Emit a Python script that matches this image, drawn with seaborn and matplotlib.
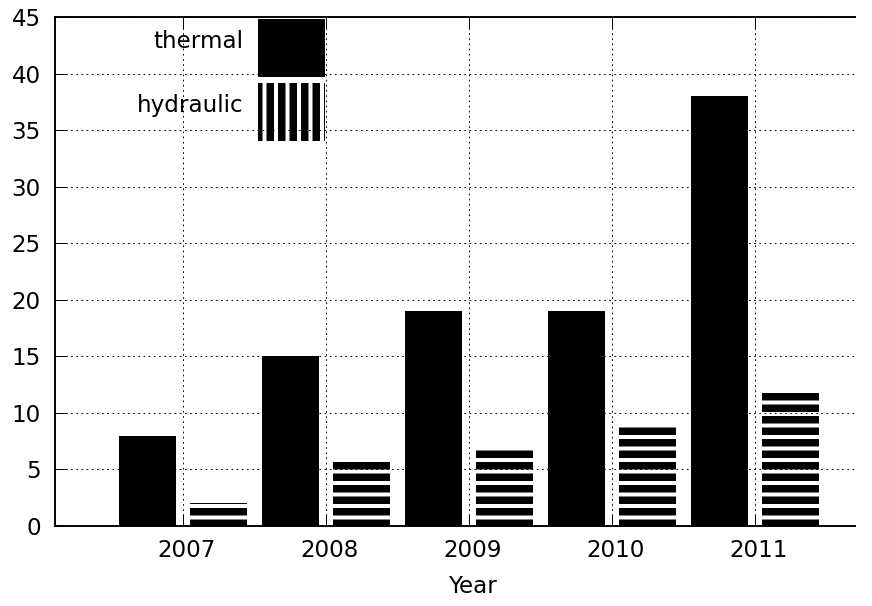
import matplotlib
matplotlib.use("Agg")
import matplotlib.pyplot as plt
import matplotlib.transforms as mtransforms
from matplotlib.patches import Patch
import seaborn as sns
import pandas as pd

years = ["2007", "2008", "2009", "2010", "2011"]
thermal = [8, 15, 19, 19, 38]
hydraulic = [2, 6, 7, 9, 12]
series_names = ["thermal", "hydraulic"]
y_ticks = [0, 5, 10, 15, 20, 25, 30, 35, 40, 45]
x_label = "Year"

DPI = 69
W, H = 872, 606
FS = 24

plt.rcParams["hatch.linewidth"] = 7.8
plt.rcParams["font.family"] = ["DejaVu Sans"]

df = pd.DataFrame({
    "year": years * 2,
    "type": [series_names[0]] * len(years) + [series_names[1]] * len(years),
    "value": thermal + hydraulic,
})

fig = plt.figure(figsize=(W / DPI, H / DPI), dpi=DPI)
ax = fig.add_axes([55 / W, (H - 526) / H, 800 / W, 509 / H])

sns.barplot(data=df, x="year", y="value", hue="type", hue_order=series_names,
            palette=["black", "black"], width=1.0, gap=0.2, ax=ax,
            legend=False, errorbar=None, zorder=2)

n = len(years)
for i, p in enumerate(ax.patches):
    p.set_linewidth(0)
    if i < n:
        p.set_facecolor("black")
        p.set_edgecolor("black")
    else:
        p.set_facecolor("none")
        p.set_edgecolor("black")
        p.set_hatch("-")
        if hasattr(p, "set_hatch_linewidth"):
            p.set_hatch_linewidth(7.8)

ax.set_xlim(-128 / 143, 4 + 100 / 143)
ax.set_ylim(0, 45)
ax.set_yticks(y_ticks)
ax.set_yticklabels([str(v) for v in y_ticks])

ax.grid(True, color="black", linewidth=1.0, linestyle=(0, (1.8, 3.6)), zorder=1)
ax.set_axisbelow(True)

for s in ["left", "top", "bottom"]:
    ax.spines[s].set_linewidth(2.0)
    ax.spines[s].set_zorder(5)
ax.spines["right"].set_visible(False)

ax.tick_params(axis="x", direction="in", length=12.5, width=1.0, top=True,
               bottom=True, labelsize=FS, pad=13.5, color="black")
ax.tick_params(axis="y", direction="in", length=12.5, width=1.0, left=True,
               right=False, labelsize=FS, pad=15, color="black")

offset = mtransforms.ScaledTranslation(4 / DPI, 0, fig.dpi_scale_trans)
for lab in ax.get_xticklabels():
    lab.set_transform(lab.get_transform() + offset)

ax.set_xlabel(x_label, fontsize=FS)
ax.set_ylabel("")
ax.xaxis.set_label_coords((472 - 55) / 800, (526 - 575) / 509)

handles = [Patch(facecolor="black", edgecolor="black", linewidth=0),
           Patch(facecolor="none", edgecolor="black", linewidth=0, hatch="|")]
leg = ax.legend(handles, series_names, loc="upper right",
                bbox_to_anchor=(325 / W, 1 - 19 / H), bbox_transform=fig.transFigure,
                frameon=False, markerfirst=False, fontsize=FS,
                handlelength=2.91, handleheight=3.5, labelspacing=0.26,
                handletextpad=0.64, borderpad=0, borderaxespad=0)
for hp in leg.get_patches():
    if hasattr(hp, "set_hatch_linewidth"):
        hp.set_hatch_linewidth(7.8)
up = mtransforms.ScaledTranslation(0, 6 / DPI, fig.dpi_scale_trans)
for t in leg.get_texts():
    t.set_transform(t.get_transform() + up)

fig.savefig("out.png", dpi=DPI)
